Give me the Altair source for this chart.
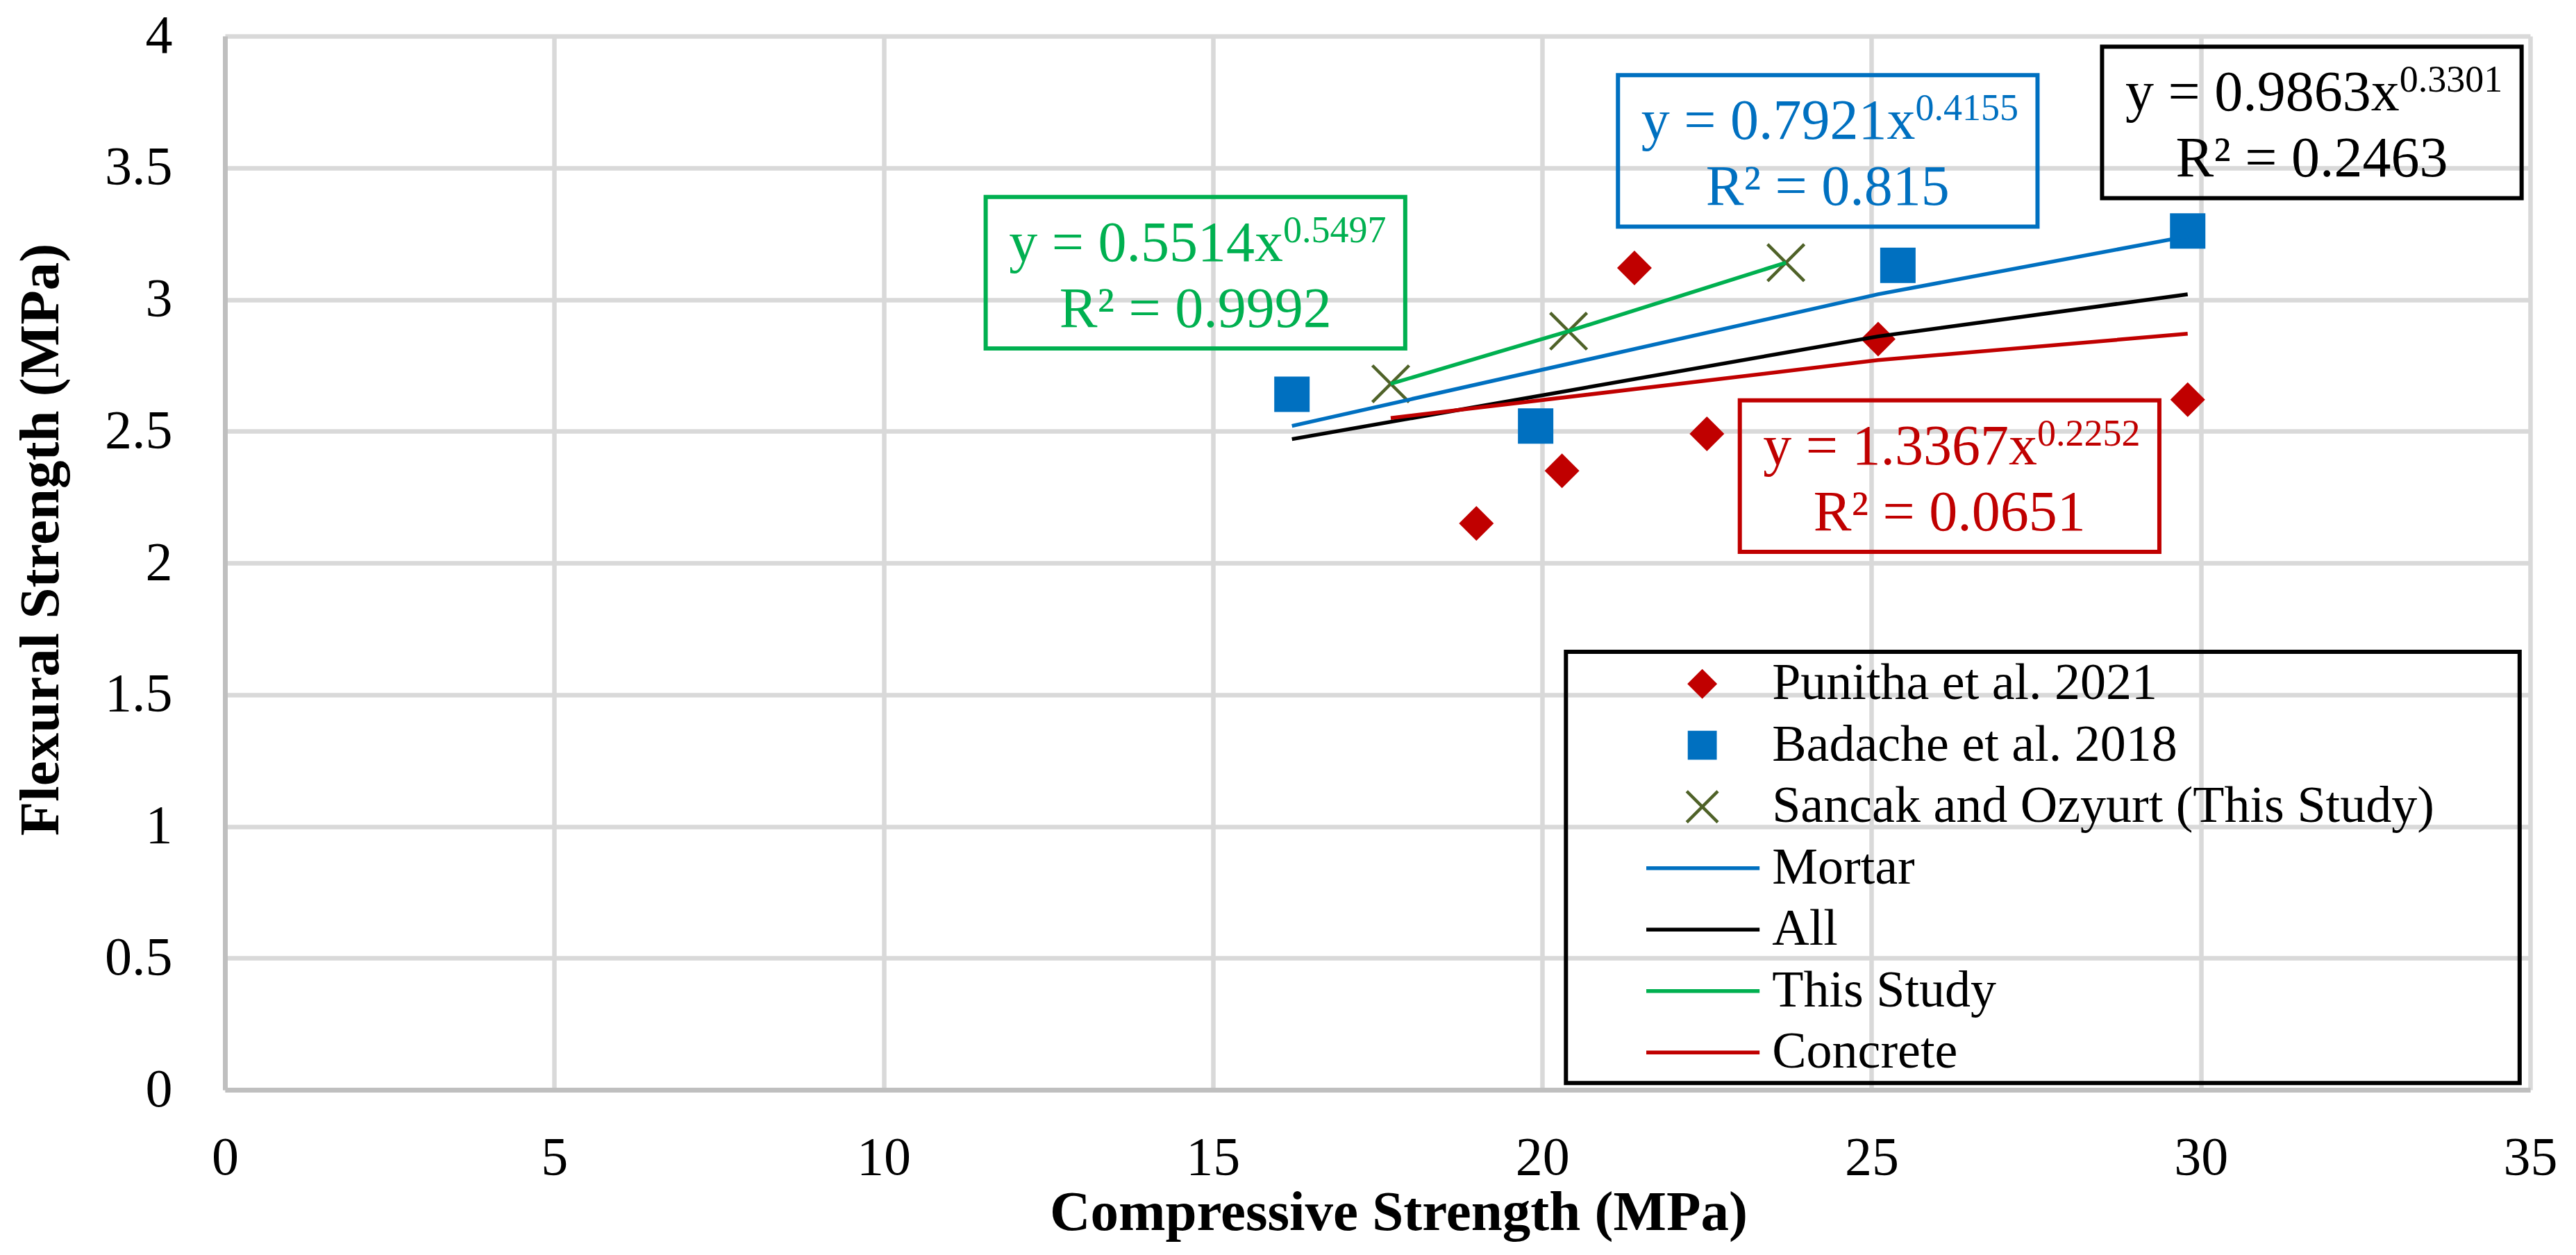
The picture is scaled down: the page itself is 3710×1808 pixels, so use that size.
import altair as alt
import pandas as pd

punitha_x = [19.0, 20.3, 21.4, 22.5, 25.1, 29.8]
punitha_y = [2.15, 2.35, 3.12, 2.49, 2.85, 2.62]
badache_x = [16.2, 19.9, 25.4, 29.8]
badache_y = [2.64, 2.52, 3.13, 3.26]
sancak_x = [17.7, 20.4, 23.7]
sancak_y = [2.68, 2.88, 3.14]

# power trendlines as drawn in the figure
mortar_x = [16.2, 25.1, 29.8]
mortar_y = [2.52, 3.02, 3.24]
all_x = [16.2, 25.1, 29.8]
all_y = [2.47, 2.86, 3.02]
study_x = [17.7, 20.4, 23.7]
study_y = [2.68, 2.88, 3.14]
concrete_x = [17.7, 25.1, 29.8]
concrete_y = [2.55, 2.77, 2.87]

fit_names = ["Mortar", "All", "This Study", "Concrete"]
fit_colors = ["#0070C0", "#000000", "#00B050", "#C00000"]
fit_coef = ["0.7921", "0.9863", "0.5514", "1.3367"]
fit_exp = ["0.4155", "0.3301", "0.5497", "0.2252"]
fit_r2 = ["0.815", "0.2463", "0.9992", "0.0651"]

legend_labels = ["Punitha et al. 2021", "Badache et al. 2018", "Sancak and Ozyurt (This Study)",
                 "Mortar", "All", "This Study", "Concrete"]

SERIF = "Liberation Serif"
RED, BLUE, OLIVE = "#C00000", "#0070C0", "#4F6228"
X_PATH = "M-1,-1L1,1M-1,1L1,-1"

# shared scales / axes
xs = alt.Scale(domain=[0, 35], nice=False, zero=False)
ys = alt.Scale(domain=[0, 4], nice=False, zero=False)
X = alt.X("x:Q", scale=xs, axis=alt.Axis(
    values=[0, 5, 10, 15, 20, 25, 30, 35], format="~g", title="Compressive Strength (MPa)",
    labelPadding=59, labelFlush=False, titleX=1690, titleY=201, titleBaseline="alphabetic"))
Y = alt.Y("y:Q", scale=ys, axis=alt.Axis(
    values=[0, 0.5, 1, 1.5, 2, 2.5, 3, 3.5, 4], format="~g", title="Flexural Strength (MPa)",
    labelPadding=76, labelFlush=False, titleX=-241, titleY=725, titleAngle=270, titleAlign="center",
    titleBaseline="alphabetic"))

# scatter layers
pun = pd.DataFrame({"x": punitha_x, "y": punitha_y})
bad = pd.DataFrame({"x": badache_x, "y": badache_y})
san = pd.DataFrame({"x": sancak_x, "y": sancak_y})

p1 = alt.Chart(pun).mark_point(shape="diamond", filled=True, size=2500, color=RED, opacity=1).encode(X, Y)
p2 = alt.Chart(bad).mark_point(shape="square", filled=True, size=2600, color=BLUE, opacity=1).encode(X, Y)
p3 = alt.Chart(san).mark_point(shape=X_PATH, filled=False, size=2800, color=OLIVE,
                               strokeWidth=4.5, opacity=1).encode(X, Y)

# trendlines
rows = []
for name, xx, yy in zip(fit_names, [mortar_x, all_x, study_x, concrete_x],
                        [mortar_y, all_y, study_y, concrete_y]):
    for i, (a, b) in enumerate(zip(xx, yy)):
        rows.append({"fit": name, "x": a, "y": b, "o": i})
lines_df = pd.DataFrame(rows)
lines = alt.Chart(lines_df).mark_line(strokeWidth=5.5).encode(
    X, Y, order="o:Q",
    color=alt.Color("fit:N", scale=alt.Scale(domain=fit_names, range=fit_colors), legend=None))

# equation boxes (layout: left edge / top edge in data units)
box_left = [21.15, 28.5, 11.55, 23.0]
box_top = [3.852, 3.96, 3.389, 2.617]
bw, bh = 6.37, 0.575
ann = []
for n, c, k, e, r, l, t in zip(fit_names, fit_colors, fit_coef, fit_exp, fit_r2, box_left, box_top):
    cx = l + bw / 2
    ann.append({"x": l, "x2": l + bw, "y": t, "y2": t - bh, "c": c,
                "cx": cx, "ax": cx + 1.33, "my": t - 0.242, "sy": t - 0.172, "ry": t - 0.492,
                "main": f"y = {k}x", "sup": e, "r2": f"R\u00b2 = {r}"})
ann_df = pd.DataFrame(ann)
stroke_c = alt.Color("c:N", scale=None)
boxes = alt.Chart(ann_df).mark_rect(fillOpacity=0, strokeWidth=6).encode(
    X, Y, x2="x2:Q", y2="y2:Q", stroke=alt.Stroke("c:N", scale=None))
t_main = alt.Chart(ann_df).mark_text(font=SERIF, fontSize=82, align="right", baseline="alphabetic").encode(
    alt.X("ax:Q", scale=xs), alt.Y("my:Q", scale=ys), text="main:N", color=stroke_c)
t_sup = alt.Chart(ann_df).mark_text(font=SERIF, fontSize=54, align="left", baseline="alphabetic").encode(
    alt.X("ax:Q", scale=xs), alt.Y("sy:Q", scale=ys), text="sup:N", color=stroke_c)
t_r2 = alt.Chart(ann_df).mark_text(font=SERIF, fontSize=82, align="center", baseline="alphabetic").encode(
    alt.X("cx:Q", scale=xs), alt.Y("ry:Q", scale=ys), text="r2:N", color=stroke_c)

# hand-made legend
lg_box = pd.DataFrame({"x": [20.36], "x2": [34.84], "y": [1.663], "y2": [0.026]})
leg_rect = alt.Chart(lg_box).mark_rect(fillOpacity=0, stroke="black", strokeWidth=6).encode(
    X, Y, x2="x2:Q", y2="y2:Q")
row_y = [1.541 - i * 0.2332 for i in range(len(legend_labels))]
leg_txt = alt.Chart(pd.DataFrame({"x": [23.49] * 7, "y": row_y, "t": legend_labels})).mark_text(
    font=SERIF, fontSize=74, align="left", baseline="middle", color="black").encode(X, Y, text="t:N")
leg_p1 = alt.Chart(pd.DataFrame({"x": [22.43], "y": [row_y[0]]})).mark_point(
    shape="diamond", filled=True, size=1850, color=RED, opacity=1).encode(X, Y)
leg_p2 = alt.Chart(pd.DataFrame({"x": [22.43], "y": [row_y[1]]})).mark_point(
    shape="square", filled=True, size=1750, color=BLUE, opacity=1).encode(X, Y)
leg_p3 = alt.Chart(pd.DataFrame({"x": [22.43], "y": [row_y[2]]})).mark_point(
    shape=X_PATH, filled=False, size=2000, color=OLIVE, strokeWidth=4.5, opacity=1).encode(X, Y)
leg_lines = alt.Chart(pd.DataFrame({"x": [21.58] * 4, "x2": [23.30] * 4, "y": row_y[3:], "fit": fit_names})).mark_rule(
    strokeWidth=5.5).encode(X, Y, x2="x2:Q",
                            color=alt.Color("fit:N", scale=alt.Scale(domain=fit_names, range=fit_colors), legend=None))

chart = alt.layer(
    boxes, leg_rect, p1, p2, p3, lines, t_main, t_sup, t_r2,
    leg_lines, leg_p1, leg_p2, leg_p3, leg_txt
).properties(
    width=3320, height=1518,
    autosize=alt.AutoSizeParams(type="none"),
    padding={"left": 316, "top": 44, "right": 50, "bottom": 220},
    background="white",
).configure_view(stroke="transparent").configure_axis(
    grid=True, gridColor="#D9D9D9", gridWidth=6.5,
    domain=True, domainColor="#BFBFBF", domainWidth=7,
    ticks=False, tickSize=0,
    labelFont=SERIF, labelFontSize=78, labelColor="black",
    titleFont=SERIF, titleFontSize=81, titleFontWeight="bold", titleColor="black",
).configure_axisY(labelAlign="right", labelBaseline="middle")

chart.save("out.html", embed_options={"renderer": "svg", "actions": False})
